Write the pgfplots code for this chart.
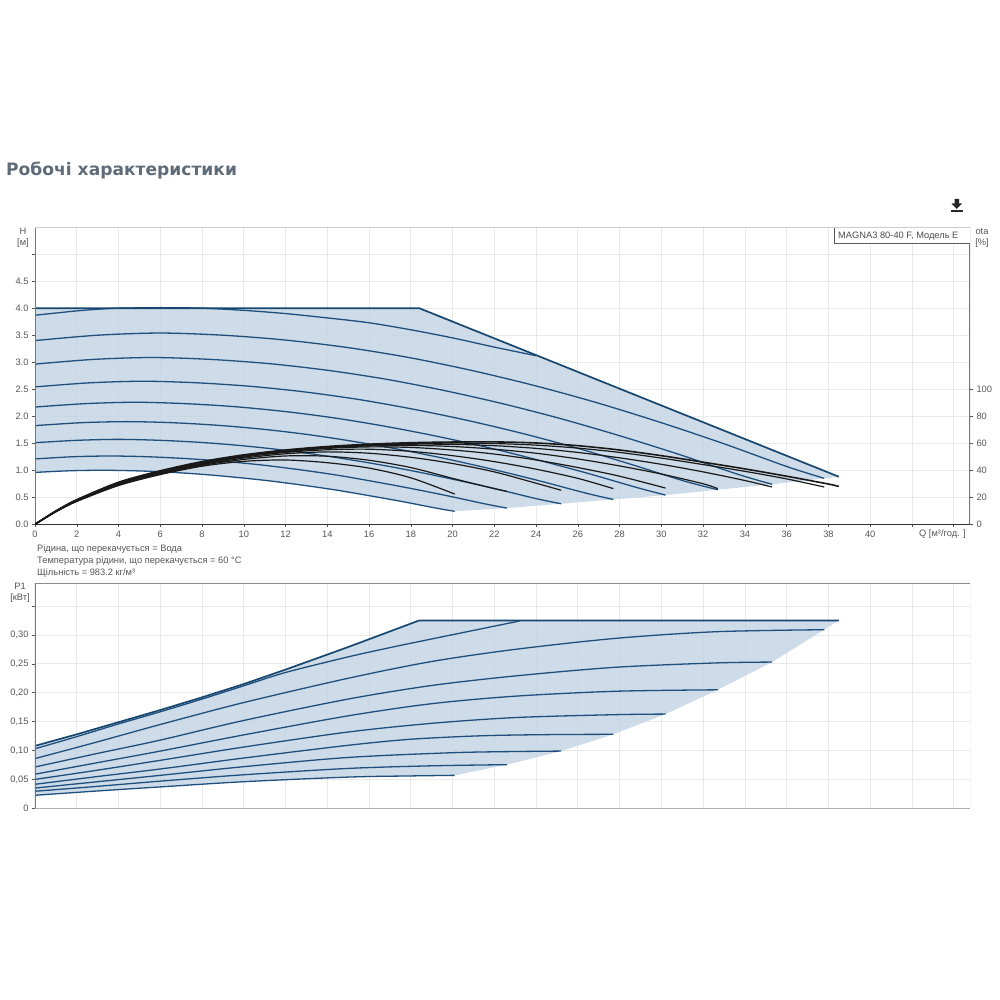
\documentclass[border=0pt]{standalone}
\usepackage{fontspec}
\setmainfont{Liberation Sans}
\newfontfamily\titlefont{DejaVu Sans}
\usepackage{pgfplots}
\pgfplotsset{compat=1.18}
\definecolor{curve}{HTML}{1F4F7D}
\definecolor{edge}{HTML}{17466F}
\definecolor{band}{HTML}{C6D5E4}
\definecolor{gridc}{HTML}{E9E9E9}
\definecolor{labc}{HTML}{555555}
\definecolor{spine}{HTML}{777777}
\definecolor{titlec}{HTML}{5F6B78}
\pgfplotsset{
  base/.style={scale only axis, width=935pt, xmin=0, xmax=44.78,
    axis line style={draw=none}, tick align=outside,
    major tick length=3pt, tick style={color=labc, line width=0.5pt},
    ticklabel style={font=\fontsize{9.3}{10}\selectfont, text=labc},
    xtick={0,2,...,44}, clip=true},
  hc/.style={curve, line width=1.3pt, smooth},
  env/.style={edge, line width=1.7pt},
  ec/.style={black!90, line width=1.2pt, smooth},
}
\begin{document}
\begin{tikzpicture}[x=1pt,y=1pt]
\path[use as bounding box] (0,0) rectangle (1000,1000);
\node[anchor=base west, inner sep=0pt, text=titlec, font=\titlefont\bfseries\fontsize{17.1}{20}\selectfont] at (6,824) {Робочі характеристики};
% upper panel
\begin{axis}[base, at={(35pt,475.7pt)}, anchor=south west, height=296.6pt,
  xtick pos=bottom, ytick pos=left,
  ymin=0, ymax=5.49, ytick={0,0.5,...,5}, yticklabels={0.0,0.5,1.0,1.5,2.0,2.5,3.0,3.5,4.0,4.5,{}},
  xticklabels={0,2,4,6,8,10,12,14,16,18,20,22,24,26,28,30,32,34,36,38,40,{},{}},
  grid=major, grid style={gridc, line width=0.8pt}, axis on top=false]
\addplot[draw=none, fill=band, fill opacity=0.86] coordinates {(0,4)(18.4,4)(38.5,0.88)(37.8,0.85)(35.3,0.74)(32.7,0.64)(30.2,0.54)(27.7,0.46)(25.2,0.38)(22.6,0.30)(20.1,0.24)(19.2,0.30)(17.6,0.42)(16,0.53)(14.4,0.635)(12.8,0.725)(11.2,0.805)(9.6,0.87)(8,0.925)(6.4,0.965)(4.8,0.99)(3.2,1.0)(1.6,0.99)(0,0.96)} -- cycle;
\addplot[hc] coordinates {(0,0.96)(1.6,0.99)(3.2,1.0)(4.8,0.99)(6.4,0.965)(8,0.925)(9.6,0.87)(11.2,0.805)(12.8,0.725)(14.4,0.635)(16,0.53)(17.6,0.42)(19.2,0.30)(20.1,0.24)};
\addplot[hc] coordinates {(0,1.21)(1.8,1.25)(3.6,1.264)(5.4,1.25)(7.2,1.217)(9,1.167)(10.8,1.10)(12.6,1.014)(14.4,0.914)(16.1,0.80)(17.9,0.671)(19.7,0.532)(21.5,0.382)(22.6,0.30)};
\addplot[hc] coordinates {(0,1.51)(2,1.554)(4,1.572)(6,1.554)(8,1.514)(10,1.452)(12,1.368)(14,1.261)(16,1.137)(18,0.995)(20,0.835)(22,0.662)(24,0.475)(25.2,0.38)};
\addplot[hc] coordinates {(0,1.826)(2.2,1.88)(4.4,1.90)(6.6,1.88)(8.8,1.831)(11,1.756)(13.2,1.654)(15.4,1.525)(17.6,1.375)(19.8,1.203)(22,1.01)(24.2,0.80)(26.4,0.575)(27.7,0.46)};
\addplot[hc] coordinates {(0,2.17)(2.4,2.233)(4.8,2.259)(7.2,2.233)(9.6,2.176)(12,2.086)(14.4,1.965)(16.8,1.812)(19.2,1.633)(21.6,1.429)(24,1.199)(26.4,0.951)(28.8,0.683)(30.2,0.54)};
\addplot[hc] coordinates {(0,2.543)(2.6,2.618)(5.2,2.648)(7.8,2.618)(10.4,2.551)(13,2.446)(15.6,2.304)(18.2,2.124)(20.8,1.915)(23.4,1.676)(26,1.406)(28.5,1.115)(31.1,0.80)(32.7,0.64)};
\addplot[hc] coordinates {(0,2.965)(2.8,3.052)(5.6,3.087)(8.4,3.052)(11.2,2.974)(14,2.851)(16.8,2.686)(19.6,2.476)(22.4,2.232)(25.2,1.953)(28,1.639)(30.8,1.299)(33.6,0.933)(35.3,0.74)};
\addplot[hc] coordinates {(0,3.4)(3,3.5)(6,3.54)(9,3.5)(12,3.41)(15,3.27)(18,3.08)(21,2.84)(24,2.56)(27,2.24)(30,1.88)(33,1.49)(36,1.07)(37.8,0.85)};
\addplot[hc] coordinates {(0,3.87)(1,3.91)(2,3.95)(3,3.98)(4,4.0)(6,4.01)(8,4.0)(10,3.96)(12,3.9)(14,3.82)(16,3.73)(18,3.6)(20,3.45)(22,3.28)(24,3.12)};
\addplot[env] coordinates {(0,4)(18.4,4)(38.5,0.88)};
\draw[spine, line width=1.4pt] (rel axis cs:0,0) -- (rel axis cs:0,1);
\draw[spine, line width=1.2pt] (rel axis cs:1,0) -- (rel axis cs:1,1);
\draw[black!80, line width=0.7pt] (rel axis cs:0,0) -- (rel axis cs:1,0);
\draw[black!20, line width=1pt] (rel axis cs:0,1) -- (rel axis cs:1,1);
\end{axis}
% efficiency curves on the right-hand scale
\begin{axis}[base, at={(35pt,475.7pt)}, anchor=south west, height=296.6pt,
  ymin=0, ymax=219.6, axis y line*=right, axis x line=none,
  ytick={0,20,40,60,80,100}, yticklabels={0,20,40,60,80,100}]
\addplot[ec] coordinates {(0,0)(1,9.2)(2,16.9)(4,28.7)(6,36.8)(8,43)(10,46.6)(12,47.6)(14,45.6)(16,41.6)(18,34.4)(20.1,22.4)};
\addplot[ec] coordinates {(0,0)(1,9.3)(2,17.1)(4,29)(6,37.2)(8,43.6)(10,48)(12,50.6)(14,50.4)(16,47.4)(18,42)(20,34)(22,26.4)(22.6,24.4)};
\addplot[ec] coordinates {(0,0)(1,9.4)(2,17.3)(4,29.3)(6,37.6)(8,44.2)(10,49)(12,52.2)(14,53.6)(16,52.6)(18,49.6)(20,45)(22,38.8)(24,30.4)(25.2,25.2)};
\addplot[ec] coordinates {(0,0)(1,9.5)(2,17.5)(4,29.6)(6,38)(8,44.7)(10,49.8)(12,53.2)(14,55.2)(16,55.6)(18,54)(20,50.8)(22,46.4)(24,40.8)(26,34)(27.7,26.4)};
\addplot[ec] coordinates {(0,0)(1,9.6)(2,17.6)(4,29.9)(6,38.3)(8,45.1)(10,50.2)(12,53.8)(14,56.2)(16,57.3)(18,56.9)(20,55)(22,52)(24,47.6)(26,42)(28,35.6)(30.2,26.8)};
\addplot[ec] coordinates {(0,0)(1,9.7)(2,17.8)(4,30.2)(6,38.6)(8,45.4)(10,50.5)(12,54.2)(14,56.6)(16,58)(18,58.4)(20,57.6)(22,55.6)(24,52.6)(26,48.4)(28,43.2)(30,37.2)(32,30)(32.7,26.4)};
\addplot[ec] coordinates {(0,0)(1,9.7)(2,17.9)(4,30.5)(6,38.9)(8,45.7)(10,50.8)(12,54.6)(14,57)(16,58.5)(18,59.3)(20,59.2)(22,58.2)(24,56.2)(26,53.2)(28,49.2)(30,44.4)(32,38.8)(34,32.4)(35.3,27.6)};
\addplot[ec] coordinates {(0,0)(1,9.8)(2,18.1)(4,30.8)(6,39.2)(8,46)(10,51)(12,54.8)(14,57.3)(16,58.9)(18,59.8)(20,60.1)(22,59.8)(24,58.6)(26,56.4)(28,53.2)(30,49)(32,44.2)(34,39.2)(36,33.6)(37.8,27.6)};
\addplot[ec, line width=1.6pt] coordinates {(0,0)(1,9.9)(2,18.2)(4,31.1)(6,39.6)(8,46.4)(10,51.4)(12,55)(14,57.6)(16,59.3)(18,60.4)(20,60.9)(22,61)(24,60.2)(26,58.2)(28,55)(30,50.8)(32,46)(34,41)(36,35.6)(38,29.8)(38.5,28)};
\end{axis}
% lower panel
\begin{axis}[base, at={(35pt,191.7pt)}, anchor=south west, height=225pt,
  ytick pos=left, xmajorticks=false,
  ymin=0, ymax=0.3893, ytick={0,0.05,...,0.351}, yticklabels={0,{0,05},{0,10},{0,15},{0,20},{0,25},{0,30},{}},
  grid=major, grid style={gridc, line width=0.8pt}]
\addplot[draw=none, fill=band, fill opacity=0.86] coordinates {(0,0.108)(2,0.128)(4,0.149)(6,0.17)(8,0.192)(10,0.215)(12,0.24)(15,0.279)(18.4,0.325)(38.5,0.325)(37.8,0.309)(35.3,0.253)(32.7,0.205)(30.2,0.163)(27.7,0.128)(25.2,0.099)(22.6,0.0755)(20.1,0.057)(18,0.056)(15,0.054)(10,0.046)(6,0.037)(3,0.03)(0,0.0225)} -- cycle;
\addplot[hc] coordinates {(0,0.0225)(3,0.03)(6,0.037)(10,0.046)(15,0.054)(18,0.056)(20.1,0.057)};
\addplot[hc] coordinates {(0,0.0295)(3,0.038)(6,0.047)(10,0.058)(15,0.069)(19,0.0735)(22.6,0.0755)};
\addplot[hc] coordinates {(0,0.035)(3,0.046)(6,0.057)(10,0.072)(15,0.088)(19.85,0.096)(22.5,0.098)(25.2,0.099)};
\addplot[hc] coordinates {(0,0.0415)(3,0.055)(6,0.068)(10,0.087)(15,0.109)(18,0.1195)(21.4,0.1255)(24.6,0.1275)(27.7,0.128)};
\addplot[hc] coordinates {(0,0.05)(3,0.066)(6,0.083)(10,0.106)(15,0.132)(19,0.147)(23,0.157)(27.8,0.162)(30.2,0.163)};
\addplot[hc] coordinates {(0,0.059)(3,0.079)(6,0.099)(10,0.127)(15,0.16)(19,0.181)(23,0.194)(27.8,0.2025)(32.7,0.205)};
\addplot[hc] coordinates {(0,0.0715)(3,0.095)(6,0.118)(10,0.152)(15,0.189)(19,0.2125)(23,0.229)(27.8,0.244)(32.6,0.2515)(35.3,0.253)};
\addplot[hc] coordinates {(0,0.086)(3,0.115)(6,0.145)(10,0.183)(15,0.225)(19,0.254)(23,0.275)(27.8,0.294)(32.6,0.3055)(37.8,0.309)};
\addplot[hc] coordinates {(0,0.103)(2,0.124)(4,0.146)(6,0.167)(8,0.189)(10,0.212)(12,0.235)(15,0.262)(17,0.278)(19,0.293)(23.2,0.324)};
\addplot[env] coordinates {(0,0.108)(2,0.128)(4,0.149)(6,0.17)(8,0.192)(10,0.215)(12,0.24)(15,0.279)(18.4,0.325)(38.5,0.325)};
\draw[spine, line width=1.4pt] (rel axis cs:0,0) -- (rel axis cs:0,1);
\draw[black!45, line width=0.8pt] (rel axis cs:0,1) -- (rel axis cs:1,1);
\draw[black!25, line width=0.8pt] (rel axis cs:1,0) -- (rel axis cs:1,1);
\draw[black!30, line width=0.9pt] (rel axis cs:0,0) -- (rel axis cs:1,0);
\end{axis}
% texts
\begin{scope}[every node/.style={inner sep=0pt, text=labc, font=\fontsize{9.3}{10}\selectfont}]
\node[anchor=base] at (23,765) {H};
\node[anchor=base] at (23,754) {[м]};
\node[anchor=base] at (20,410) {P1};
\node[anchor=base] at (20,399) {[кВт]};
\node[anchor=base] at (982,765) {ota};
\node[anchor=base] at (982,754) {[\%]};
\node[anchor=base east] at (966,463) {Q [м³/год. ]};
\node[anchor=base west] at (37,448) {Рідина, що перекачується = Вода};
\node[anchor=base west] at (37,436) {Температура рідини, що перекачується = 60 °C};
\node[anchor=base west] at (37,424.5) {Щільність = 983.2 кг/м³};
\end{scope}
\fill[white] (834,757) rectangle (970,772);
\draw[black!65, line width=0.6pt] (834,772) -- (834,757) -- (970,757);
\node[anchor=base west, inner sep=0pt, text=black!70, font=\fontsize{9.3}{10}\selectfont] at (838,761) {MAGNA3 80-40 F, Модель E};
% download icon
\fill[black!85] (954.5,801) -- (959,801) -- (959,796.5) -- (962,796.5) -- (956.7,791) -- (951.5,796.5) -- (954.5,796.5) -- cycle;
\fill[black!85] (951,788) rectangle (962.5,789.6);
\end{tikzpicture}
\end{document}
